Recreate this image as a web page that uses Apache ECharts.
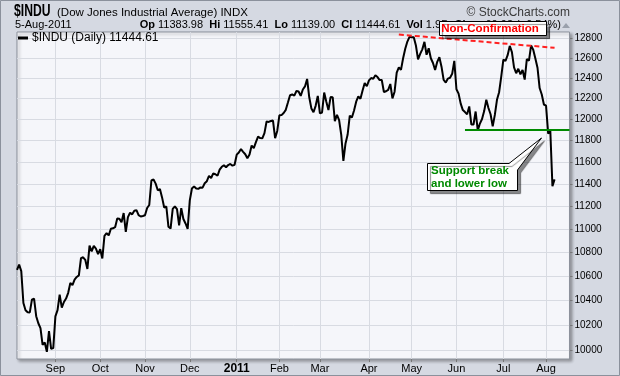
<!DOCTYPE html>
<html>
<head>
<meta charset="utf-8">
<title>$INDU</title>
<script src="https://cdn.jsdelivr.net/npm/echarts@6/dist/echarts.min.js"></script>
<style>
  html, body { margin: 0; padding: 0; background: #d5d9e2; }
  #chart { width: 620px; height: 376px; }
</style>
</head>
<body>
<div id="chart"></div>
<script>
const FONT = '"Liberation Sans", Arial, sans-serif'

// NYSE holidays inside the window (skipped like the daily chart does)
const holidays = ['2010-09-06', '2010-11-25', '2010-12-24', '2011-01-17', '2011-02-21', '2011-04-22', '2011-05-30', '2011-07-04']

// daily closes, one array per month
const aug10 = [10653.56, 10698.75, 10644.25, 10378.83, 10319.95, 10303.15, 10302.01, 10405.85, 10415.54, 10271.21, 10213.62, 10174.41, 10040.45, 10060.06, 9985.81, 10150.65, 10009.73, 10014.72]
const sep10 = [10269.47, 10320.10, 10447.93, 10340.69, 10387.01, 10415.24, 10462.77, 10544.13, 10526.49, 10572.73, 10594.83, 10607.85, 10753.62, 10761.03, 10739.31, 10662.42, 10860.26, 10812.04, 10858.14, 10835.28, 10788.05]
const oct10 = [10829.68, 10751.27, 10944.72, 10967.65, 10948.58, 11006.48, 11010.34, 11020.40, 11096.08, 11094.57, 11062.78, 11143.69, 10978.62, 11107.97, 11146.57, 11132.56, 11164.05, 11169.46, 11126.28, 11113.95, 11118.49]
const nov10 = [11124.62, 11188.72, 11215.13, 11434.84, 11444.08, 11406.84, 11346.75, 11357.04, 11283.10, 11192.58, 11201.97, 11023.50, 11007.88, 11181.23, 11203.55, 11178.58, 11036.37, 11187.28, 11092.00, 11052.49, 11006.02]
const dec10 = [11255.78, 11362.41, 11382.09, 11362.19, 11359.16, 11372.48, 11370.06, 11410.32, 11428.56, 11476.54, 11457.47, 11499.25, 11491.91, 11478.13, 11533.16, 11559.49, 11573.49, 11555.03, 11575.54, 11585.38, 11569.71, 11577.51]
const jan11 = [11670.75, 11691.18, 11722.89, 11697.31, 11674.76, 11637.45, 11671.88, 11755.44, 11731.90, 11787.38, 11837.93, 11825.29, 11822.80, 11871.84, 11980.52, 11977.19, 11985.44, 11989.83, 11823.70, 11891.93]
const feb11 = [12040.16, 12041.97, 12062.26, 12092.15, 12161.63, 12233.15, 12239.89, 12229.29, 12273.26, 12268.19, 12226.64, 12288.17, 12318.14, 12391.25, 12212.79, 12105.78, 12068.50, 12130.45, 12226.34]
const mar11 = [12058.02, 12066.80, 12258.20, 12169.88, 12090.03, 12214.38, 12213.09, 11984.61, 12044.40, 11993.16, 11855.42, 11613.30, 11774.59, 11858.52, 12036.53, 12018.63, 12086.02, 12170.56, 12220.59, 12197.88, 12279.01, 12350.61, 12319.73]
const apr11 = [12376.72, 12400.03, 12393.90, 12426.75, 12409.49, 12380.05, 12381.11, 12263.58, 12270.99, 12285.15, 12341.83, 12201.59, 12266.75, 12453.54, 12505.99, 12479.88, 12595.37, 12690.96, 12763.31, 12810.54]
const may11 = [12807.36, 12807.51, 12723.58, 12584.17, 12638.74, 12684.68, 12760.36, 12630.03, 12695.92, 12595.75, 12548.37, 12479.58, 12560.18, 12605.32, 12512.04, 12381.26, 12356.21, 12394.66, 12402.76, 12441.58, 12569.79]
const jun11 = [12290.14, 12248.55, 12151.26, 12089.96, 12070.81, 12048.94, 12124.36, 11951.91, 11952.97, 12076.11, 11897.27, 11961.52, 12004.36, 12080.38, 12190.01, 12109.67, 12050.00, 11934.58, 12043.56, 12188.69, 12261.42, 12414.34]
const jul11 = [12582.77, 12569.87, 12626.02, 12719.49, 12657.20, 12505.76, 12446.88, 12491.61, 12437.12, 12479.73, 12385.16, 12587.42, 12571.91, 12724.41, 12681.16, 12592.80, 12501.30, 12302.55, 12240.11, 12143.24]
const aug11 = [12132.49, 11866.62, 11896.44, 11383.68, 11444.61]

const closes = [].concat(aug10, sep10, oct10, nov10, dec10, jan11, feb11, mar11, apr11, may11, jun11, jul11, aug11)

const yTicks = [10000, 10200, 10400, 10600, 10800, 11000, 11200, 11400, 11600, 11800, 12000, 12200, 12400, 12600, 12800]
const monthNames = ['Jan', 'Feb', 'Mar', 'Apr', 'May', 'Jun', 'Jul', 'Aug', 'Sep', 'Oct', 'Nov', 'Dec']

// annotation lines (date, value)
const nonConfirm = [['2011-04-21', 12834], ['2011-08-05', 12700]]
const supportLine = [['2011-06-07', 11900], ['2011-08-16', 11900]]

function tradingDays (from, to) {
  const out = []
  const d = new Date(from + 'T00:00:00Z')
  const end = new Date(to + 'T00:00:00Z')
  while (d <= end) {
    const wd = d.getUTCDay()
    const s = d.toISOString().slice(0, 10)
    if (wd !== 0 && wd !== 6 && holidays.indexOf(s) < 0) out.push(s)
    d.setUTCDate(d.getUTCDate() + 1)
  }
  return out
}

// a few empty days after the last close, like the original's right margin
const dates = tradingDays('2010-08-06', '2011-08-16')

function isMonthStart (i) {
  return i > 0 && dates[i].slice(5, 7) !== dates[i - 1].slice(5, 7)
}

const chart = echarts.init(document.getElementById('chart'))

const option = {
  animation: false,
  backgroundColor: '#d5d9e2',
  textStyle: { fontFamily: FONT },
  grid: {
    left: 17,
    right: 50.5,
    top: 32,
    bottom: 17,
    show: true,
    backgroundColor: '#f5f6fa',
    borderColor: '#8d929c',
    borderWidth: 1,
    shadowColor: 'rgba(0,0,0,0.3)',
    shadowBlur: 3,
    shadowOffsetX: 2,
    shadowOffsetY: 2
  },
  legend: {
    left: 16,
    top: 30,
    padding: 2,
    icon: 'rect',
    itemWidth: 10,
    itemHeight: 3,
    selectedMode: false,
    textStyle: { fontSize: 12, color: '#000', fontFamily: FONT, padding: [0, 0, 0, -1] }
  },
  xAxis: {
    type: 'category',
    data: dates,
    boundaryGap: false,
    axisLine: { show: false },
    axisTick: {
      show: true,
      length: 3,
      interval: (i) => isMonthStart(i),
      lineStyle: { color: '#777' }
    },
    axisLabel: {
      interval: (i) => isMonthStart(i),
      color: '#000',
      fontSize: 11,
      margin: 4,
      formatter: (val) => {
        const m = +val.slice(5, 7)
        return m === 1 ? '{y|' + val.slice(0, 4) + '}' : monthNames[m - 1]
      },
      rich: {
        y: { fontWeight: 'bold', fontSize: 12, color: '#000' }
      }
    },
    splitLine: {
      show: true,
      interval: (i) => isMonthStart(i),
      lineStyle: { color: '#d8dbe2', width: 1 }
    }
  },
  yAxis: {
    type: 'log',
    logBase: 10,
    position: 'right',
    min: 9929,
    max: 12860,
    axisLine: { show: false },
    axisTick: { show: true, length: 3, customValues: yTicks, lineStyle: { color: '#777' } },
    axisLabel: { customValues: yTicks, fontSize: 10, color: '#000', margin: 5, formatter: (v) => String(Math.round(v)) },
    splitLine: { show: true, lineStyle: { color: '#d8dbe2', width: 1 } }
  },
  series: [
    {
      name: '$INDU (Daily) 11444.61',
      type: 'line',
      data: closes,
      symbol: 'none',
      color: '#000',
      lineStyle: { color: '#000', width: 2 },
      markLine: {
        silent: true,
        symbol: ['none', 'none'],
        label: { show: false },
        data: [
          [
            { coord: nonConfirm[0], lineStyle: { color: '#ff2020', width: 2, type: [5, 3] } },
            { coord: nonConfirm[1] }
          ],
          [
            { coord: supportLine[0], lineStyle: { color: '#008a00', width: 2, type: 'solid' } },
            { coord: supportLine[1] }
          ]
        ]
      }
    }
  ],
  graphic: [
    // outer frame
    { type: 'rect', z: 50, silent: true, shape: { x: 0.5, y: 0.5, width: 619, height: 375 }, style: { fill: 'none', stroke: '#8b919c', lineWidth: 1 } },
    // header
    { type: 'text', z: 50, x: 14, y: 12, scaleX: 0.76, style: { text: '$INDU', font: 'bold 16px ' + FONT, fill: '#000', verticalAlign: 'middle' } },
    { type: 'text', z: 50, x: 57, y: 12.5, style: { text: '(Dow Jones Industrial Average) INDX', font: '11.5px ' + FONT, fill: '#000', verticalAlign: 'middle' } },
    { type: 'text', z: 50, x: 570, y: 12.5, style: { text: '\u00a9 StockCharts.com', font: '12px ' + FONT, fill: '#3a3a3a', align: 'right', verticalAlign: 'middle' } },
    { type: 'text', z: 50, x: 15, y: 24.5, style: { text: '5-Aug-2011', font: '11px ' + FONT, fill: '#000', verticalAlign: 'middle' } },
    {
      type: 'text',
      z: 50,
      x: 561,
      y: 24.5,
      style: {
        text: '{b|Op} 11383.98  {b|Hi} 11555.41  {b|Lo} 11139.00  {b|Cl} 11444.61  {b|Vol} 1.9B  {b|Chg} +60.93 (+0.54%)',
        font: '11px ' + FONT,
        fill: '#000',
        align: 'right',
        verticalAlign: 'middle',
        rich: { b: { fontWeight: 'bold', fontSize: 11, fill: '#000' } }
      }
    },
    { type: 'polygon', z: 50, shape: { points: [[562, 28], [570, 28], [566, 23]] }, style: { fill: '#9aa0ab' } },
    // Non-Confirmation callout
    {
      type: 'rect',
      z: 60,
      shape: { x: 439.5, y: 21.5, width: 107, height: 14 },
      style: { fill: '#fff', stroke: '#000', lineWidth: 1, shadowColor: 'rgba(0,0,0,0.45)', shadowOffsetX: 3, shadowOffsetY: 3, shadowBlur: 1 }
    },
    { type: 'text', z: 61, x: 490, y: 28.5, style: { text: 'Non-Confirmation', font: 'bold 11.5px ' + FONT, fill: '#ff0000', align: 'center', verticalAlign: 'middle' } },
    // Support break callout with pointer
    {
      type: 'polygon',
      z: 60,
      shape: { points: [[427.5, 163.5], [509, 163.5], [541.5, 138], [517.5, 170], [517.5, 190.5], [427.5, 190.5]] },
      style: { fill: '#fff', stroke: '#000', lineWidth: 1, shadowColor: 'rgba(0,0,0,0.45)', shadowOffsetX: 3, shadowOffsetY: 3, shadowBlur: 1 }
    },
    { type: 'text', z: 61, x: 431, y: 171, style: { text: 'Support break', font: 'bold 11.5px ' + FONT, fill: '#008a00', verticalAlign: 'middle' } },
    { type: 'text', z: 61, x: 431, y: 183.5, style: { text: 'and lower low', font: 'bold 11.5px ' + FONT, fill: '#008a00', verticalAlign: 'middle' } }
  ]
}

chart.setOption(option)
</script>
</body>
</html>
